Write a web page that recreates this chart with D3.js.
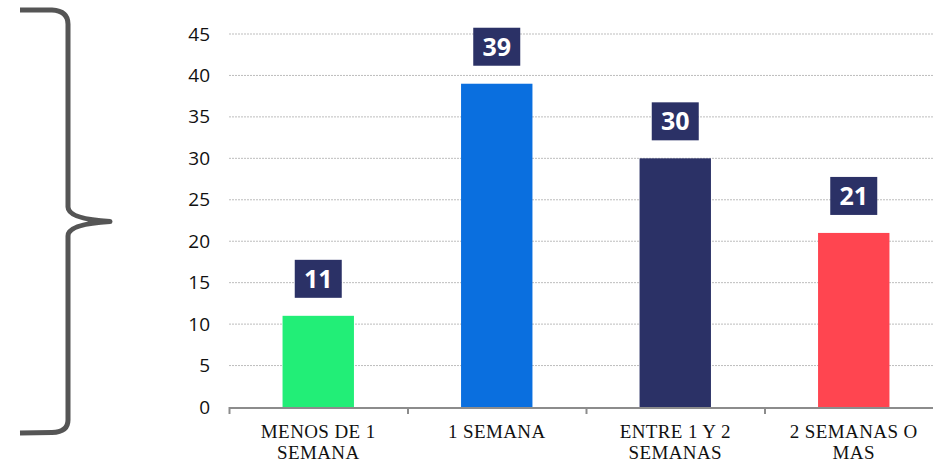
<!DOCTYPE html>
<html><head><meta charset="utf-8">
<script src="https://cdn.jsdelivr.net/npm/d3@7"></script>
<style>body{margin:0;background:#fff;}svg{display:block;}</style>
</head><body>
<svg id="chart" width="933" height="464"></svg>
<script>
const categories = [["MENOS DE 1","SEMANA"],["1 SEMANA"],["ENTRE 1 Y 2","SEMANAS"],["2 SEMANAS O","MAS"]];
const values = [11, 39, 30, 21];
const barColors = ["#22EE77", "#0A6FDF", "#2B3166", "#FF4550"];
const yTicks = [0,5,10,15,20,25,30,35,40,45];

(function(){
const svg = d3.select("#chart");
const pLeft = 229, pRight = 943, pTop = 34, pBottom = 407;

const x = d3.scaleBand().domain(d3.range(values.length)).range([pLeft, pRight]).paddingInner(0.6).paddingOuter(0.3);
const xb = d3.scaleBand().domain(d3.range(values.length)).range([pLeft, pRight]);
const y = d3.scaleLinear().domain([0, 45]).range([pBottom, pTop]);

// gridlines
svg.append("g").selectAll("line").data(yTicks.filter(d=>d>0)).join("line")
  .attr("x1", pLeft).attr("x2", 933).attr("y1", d=>y(d)).attr("y2", d=>y(d))
  .attr("stroke", "#bdbdbd").attr("stroke-width", 1).attr("stroke-dasharray", "2,1");

// y axis labels
const yAxis = d3.axisLeft(y).tickValues(yTicks).tickSize(0).tickPadding(19);
const yg = svg.append("g").attr("transform", `translate(${pLeft},0)`).call(yAxis);
yg.select(".domain").remove();
yg.selectAll("text").attr("font-family", "'Open Sans', sans-serif").attr("font-size", 19).attr("fill", "#111");

// bars
svg.append("g").selectAll("rect").data(values).join("rect")
  .attr("x", (d,i)=>x(i)).attr("width", x.bandwidth())
  .attr("y", d=>y(d)).attr("height", d=>pBottom - y(d))
  .attr("fill", (d,i)=>barColors[i]);

// x axis line and ticks
svg.append("line").attr("x1", pLeft).attr("x2", 933).attr("y1", pBottom+1).attr("y2", pBottom+1)
  .attr("stroke", "#8c8c8c").attr("stroke-width", 2);
svg.append("g").selectAll("line").data(d3.range(values.length)).join("line")
  .attr("x1", i=>xb(i)+0.5).attr("x2", i=>xb(i)+0.5).attr("y1", pBottom).attr("y2", pBottom+7)
  .attr("stroke", "#8c8c8c").attr("stroke-width", 2);

// x labels
const xl = svg.append("g").selectAll("text").data(categories).join("text")
  .attr("x", (d,i)=>xb(i)+xb.bandwidth()/2).attr("y", 438)
  .attr("text-anchor", "middle").attr("font-family", "'Liberation Serif', 'DejaVu Serif', serif")
  .attr("font-size", 19).attr("letter-spacing", 0.4).attr("fill", "#111");
xl.selectAll("tspan").data(d=>d).join("tspan")
  .attr("x", function(){return d3.select(this.parentNode).attr("x");})
  .attr("dy", (d,i)=>i===0?0:21).text(d=>d);

// value label boxes
const lab = svg.append("g").selectAll("g").data(values).join("g")
  .attr("transform", (d,i)=>`translate(${x(i)+x.bandwidth()/2},${y(d)-37})`);
lab.append("rect").attr("x", -23.5).attr("y", -19).attr("width", 47).attr("height", 38).attr("fill", "#2B3166");
lab.append("text").attr("text-anchor", "middle").attr("dy", "0.36em")
  .attr("font-family", "'Open Sans', sans-serif").attr("font-weight", 700).attr("font-size", 25)
  .attr("fill", "#fff").text(d=>d);

// left brace
svg.append("path")
  .attr("d", "M20,10 L52,10 Q68,11 68,24 L68,207 Q68,219 110,221.5 Q68,224 68,236 L68,420 Q68,432 52,432.5 L20,433")
  .attr("fill", "none").attr("stroke", "#555").attr("stroke-width", 5).attr("stroke-linejoin", "round");
})();
</script>
</body></html>
